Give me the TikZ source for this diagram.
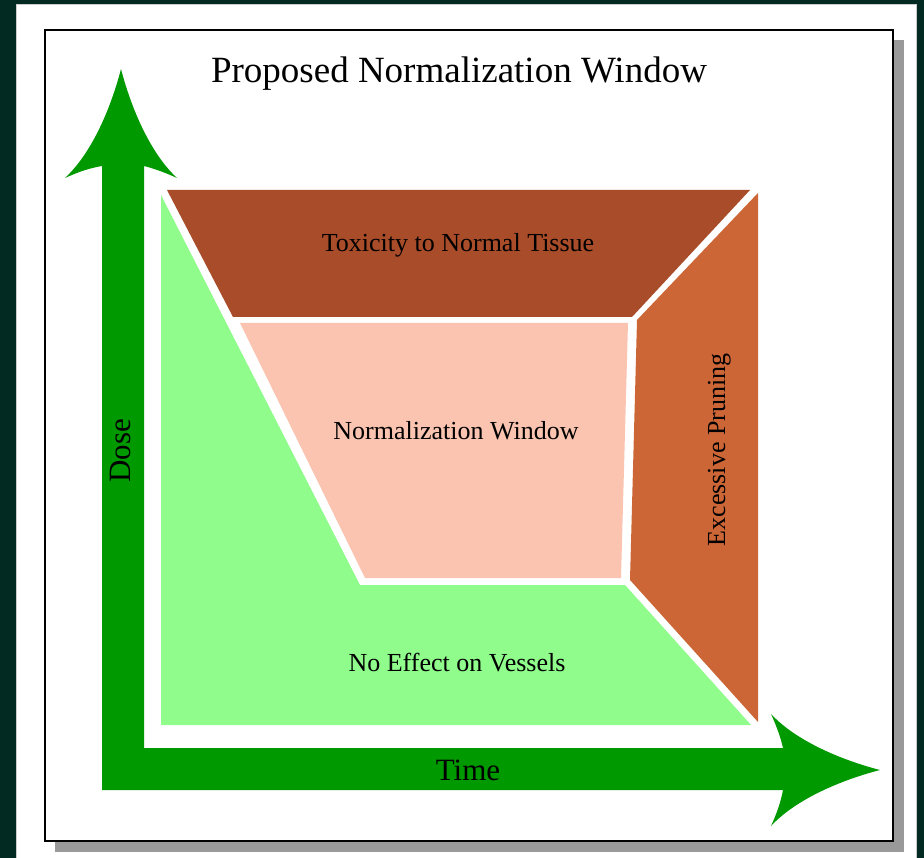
\documentclass[tikz,border=0pt]{standalone}
\usepackage{fontspec}
\setmainfont{Liberation Serif}
\definecolor{bgdark}{HTML}{022A22}
\definecolor{axisgreen}{HTML}{009900}
\definecolor{lightgreen}{HTML}{90FC8C}
\definecolor{toxbrown}{HTML}{A84C29}
\definecolor{prunorange}{HTML}{CC6637}
\definecolor{normpink}{HTML}{FAC4B0}
\definecolor{shadowgrey}{HTML}{999999}
\tikzset{
  lbl/.style={inner sep=0pt, font=\fontsize{26}{30}\selectfont, text=black},
  axislbl/.style={inner sep=0pt, font=\fontsize{31}{36}\selectfont, text=black},
  ttl/.style={inner sep=0pt, font=\fontsize{37}{42}\selectfont, text=black}
}
\begin{document}
\begin{tikzpicture}[x=1pt,y=-1pt]
\useasboundingbox (0,0) rectangle (924,858);
% background
\fill[bgdark] (0,0) rectangle (924,858);
\fill[white, draw=gray!40, line width=1pt] (16,5) rectangle (916,860);
% panel shadow and panel
\fill[shadowgrey] (55,40) rectangle (904,852);
\filldraw[fill=white, draw=black, line width=2pt] (45,30) rectangle (893,841);
% regions
\fill[toxbrown] (167,190) -- (750,190) -- (632,317) -- (233,317) -- cycle;
\fill[prunorange] (758,193) -- (758,722) -- (630,580) -- (637,320) -- cycle;
\fill[normpink] (240,323) -- (628,323) -- (621,578) -- (365,578) -- cycle;
\fill[lightgreen] (161,195) -- (360,585) -- (625,585) -- (751,725) -- (161,725) -- cycle;
% axes arrow
\fill[axisgreen] (102,166) -- (102,790) -- (783,790)
  .. controls (781,801) and (777,813) .. (771,826)
  .. controls (799,796) and (849,778) .. (880,770)
  .. controls (849,762) and (799,744) .. (771,714)
  .. controls (777,727) and (781,739) .. (783,748)
  -- (144,748) -- (144,166)
  .. controls (152,168) and (164,172) .. (177,178)
  .. controls (147,150) and (129,100) .. (121,69)
  .. controls (113,100) and (95,150) .. (65,178)
  .. controls (78,172) and (90,168) .. (102,166) -- cycle;
% labels
\node[ttl, anchor=base] (title) at (459,83) {Proposed Normalization Window};
\node[lbl, anchor=base] (tox) at (458,252) {Toxicity to Normal Tissue};
\node[lbl, anchor=base] (norm) at (456,440) {Normalization Window};
\node[lbl, anchor=base] (noeff) at (457,671) {No Effect on Vessels};
\node[lbl, anchor=base, rotate=90] (prune) at (725,450) {Excessive Pruning};
\node[axislbl, anchor=base] (time) at (468,780) {Time};
\node[axislbl, anchor=base, rotate=90] (dose) at (130,451) {Dose};
\end{tikzpicture}
\end{document}
